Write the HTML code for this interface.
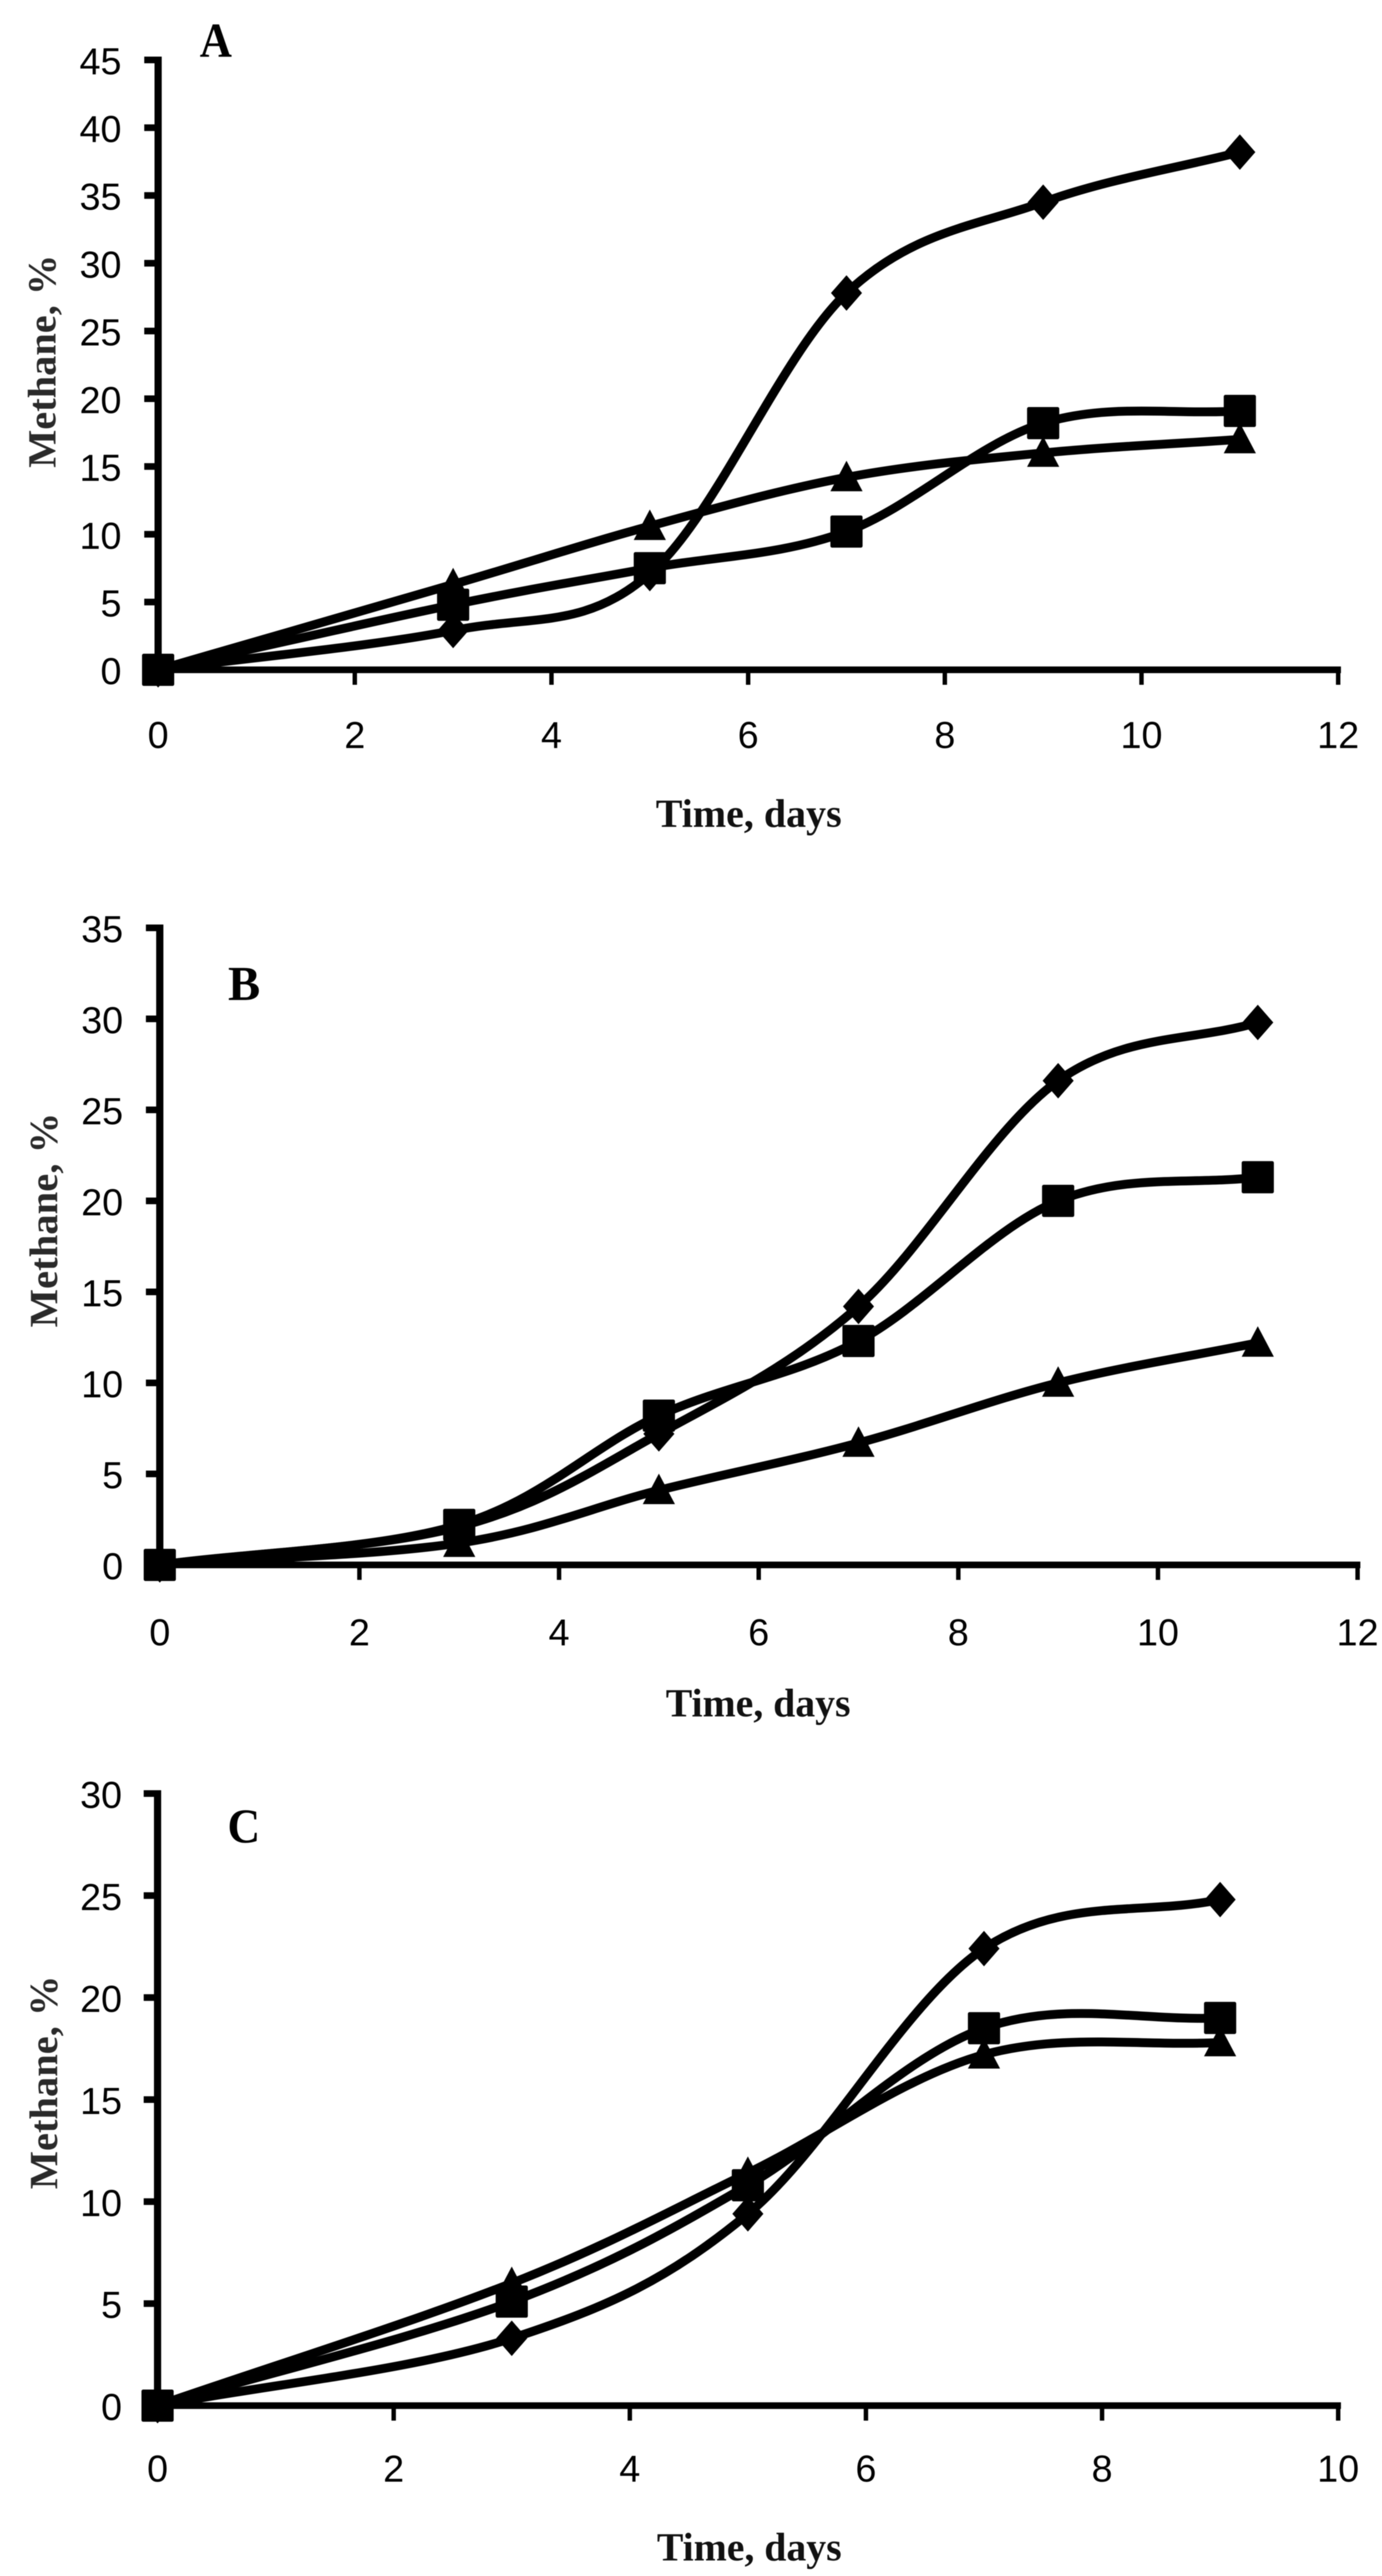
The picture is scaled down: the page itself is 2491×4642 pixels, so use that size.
<!DOCTYPE html>
<html lang="en">
<head>
<meta charset="utf-8">
<title>Methane content over time, panels A, B and C</title>
<style>
  html, body { margin: 0; padding: 0; background: #fff; }
  #figure { display: block; width: 2491px; height: 4642px; background: #fff; filter: blur(0.8px); }
  .tick-label { font-family: "Liberation Sans", sans-serif; font-size: 68px; fill: #000; }
  .axis-title { font-family: "Liberation Serif", serif; font-weight: bold; font-size: 72px; fill: #111; }
  .y-title { fill: #2a2a2a; }
  .panel-letter { font-family: "Liberation Serif", serif; font-weight: bold; font-size: 88px; fill: #000; }
</style>
</head>
<body>
<svg id="figure" xmlns="http://www.w3.org/2000/svg" width="2491" height="4642" viewBox="0 0 2491 4642">
  <rect x="0" y="0" width="2491" height="4642" fill="#ffffff"/>

  <g id="panel-a">
    <text class="panel-letter" x="360" y="102" textLength="58" lengthAdjust="spacingAndGlyphs">A</text>
    <text class="axis-title y-title" transform="translate(100 843) rotate(-90)" textLength="384" lengthAdjust="spacingAndGlyphs">Methane, %</text>
    <text class="axis-title" x="1182" y="1490" textLength="335" lengthAdjust="spacingAndGlyphs">Time, days</text>
  </g>

  <g id="panel-b">
    <text class="panel-letter" x="411" y="1802" textLength="58" lengthAdjust="spacingAndGlyphs">B</text>
    <text class="axis-title y-title" transform="translate(103 2392) rotate(-90)" textLength="387" lengthAdjust="spacingAndGlyphs">Methane, %</text>
    <text class="axis-title" x="1200" y="3093" textLength="333" lengthAdjust="spacingAndGlyphs">Time, days</text>
  </g>

  <g id="panel-c">
    <text class="panel-letter" x="410" y="3320" textLength="59" lengthAdjust="spacingAndGlyphs">C</text>
    <text class="axis-title y-title" transform="translate(103 3945) rotate(-90)" textLength="385" lengthAdjust="spacingAndGlyphs">Methane, %</text>
    <text class="axis-title" x="1184" y="4614" textLength="333" lengthAdjust="spacingAndGlyphs">Time, days</text>
  </g>
</svg>

<script>
// ---- Panel A data ----
var panelADays = [0, 3, 5, 7, 9, 11];
var panelADiamond = [0, 2.9, 7.1, 27.8, 34.5, 38.2];
var panelASquare = [0, 4.8, 7.5, 10.2, 18.2, 19.1];
var panelATriangle = [0, 6.3, 10.6, 14.2, 16.0, 17.0];
var panelAXTicks = [0, 2, 4, 6, 8, 10, 12];
var panelAYTicks = [0, 5, 10, 15, 20, 25, 30, 35, 40, 45];

// ---- Panel B data ----
var panelBDays = [0, 3, 5, 7, 9, 11];
var panelBDiamond = [0, 2.1, 7.2, 14.2, 26.6, 29.8];
var panelBSquare = [0, 2.2, 8.2, 12.3, 20.0, 21.3];
var panelBTriangle = [0, 1.2, 4.1, 6.7, 10.0, 12.2];
var panelBXTicks = [0, 2, 4, 6, 8, 10, 12];
var panelBYTicks = [0, 5, 10, 15, 20, 25, 30, 35];

// ---- Panel C data ----
var panelCDays = [0, 3, 5, 7, 9];
var panelCDiamond = [0, 3.3, 9.4, 22.4, 24.8];
var panelCSquare = [0, 5.1, 10.8, 18.5, 19.0];
var panelCTriangle = [0, 6.0, 11.4, 17.2, 17.8];
var panelCXTicks = [0, 2, 4, 6, 8, 10];
var panelCYTicks = [0, 5, 10, 15, 20, 25, 30];

var SVG_NS = 'http://www.w3.org/2000/svg';

// Spreadsheet-style smoothed line through pixel points.
function smoothPath(pts) {
  function dist(a, b) { return Math.hypot(a[0] - b[0], a[1] - b[1]); }
  var n = pts.length;
  var d = 'M' + pts[0][0].toFixed(1) + ' ' + pts[0][1].toFixed(1);
  for (var i = 0; i < n - 1; i++) {
    var p0 = pts[i === 0 ? 0 : i - 1];
    var p1 = pts[i];
    var p2 = pts[i + 1];
    var p3 = pts[i + 2 >= n ? n - 1 : i + 2];
    var d12 = dist(p1, p2);
    var d02 = dist(p0, p2);
    var d13 = dist(p1, p3);
    var f1, f2;
    var c1Big = d02 / 6 >= d12 / 2;
    var c2Big = d13 / 6 >= d12 / 2;
    if (!c1Big && !c2Big) {
      f1 = i === 0 ? 1 / 3 : 1 / 6;
      f2 = i === n - 2 ? 1 / 3 : 1 / 6;
    } else if (c1Big && c2Big) {
      f1 = d12 / 2 / d02;
      f2 = d12 / 2 / d13;
    } else if (c1Big) {
      f1 = d12 / 2 / d02;
      f2 = d12 / 2 / d13 * (d02 / d13);
    } else {
      f1 = d12 / 2 / d02 * (d13 / d02);
      f2 = d12 / 2 / d13;
    }
    var c1x = p1[0] + (p2[0] - p0[0]) * f1;
    var c1y = p1[1] + (p2[1] - p0[1]) * f1;
    var c2x = p2[0] + (p1[0] - p3[0]) * f2;
    var c2y = p2[1] + (p1[1] - p3[1]) * f2;
    d += 'C' + c1x.toFixed(1) + ' ' + c1y.toFixed(1) + ' ' + c2x.toFixed(1) + ' ' + c2y.toFixed(1) + ' ' + p2[0].toFixed(1) + ' ' + p2[1].toFixed(1);
  }
  return d;
}

function drawMarker(group, kind, cx, cy) {
  var el;
  if (kind === 'square') {
    el = document.createElementNS(SVG_NS, 'rect');
    el.setAttribute('x', cx - 29);
    el.setAttribute('y', cy - 29);
    el.setAttribute('width', 58);
    el.setAttribute('height', 58);
    el.setAttribute('rx', 3);
  } else if (kind === 'diamond') {
    el = document.createElementNS(SVG_NS, 'polygon');
    el.setAttribute('points', cx + ',' + (cy - 32) + ' ' + (cx + 28) + ',' + cy + ' ' + cx + ',' + (cy + 32) + ' ' + (cx - 28) + ',' + cy);
  } else {
    el = document.createElementNS(SVG_NS, 'polygon');
    el.setAttribute('points', cx + ',' + (cy - 30) + ' ' + (cx + 29) + ',' + (cy + 25) + ' ' + (cx - 29) + ',' + (cy + 25));
  }
  el.setAttribute('fill', '#000');
  
  
  group.appendChild(el);
}

function drawPanel(cfg) {
  var root = document.getElementById(cfg.id);
  var xMax = cfg.xTicks[cfg.xTicks.length - 1];
  var yMax = cfg.yTicks[cfg.yTicks.length - 1];
  function xScale(v) { return cfg.x0 + (cfg.x1 - cfg.x0) * v / xMax; }
  function yScale(v) { return cfg.y0 + (cfg.y1 - cfg.y0) * v / yMax; }

  var axes = document.createElementNS(SVG_NS, 'g');
  
  
  root.appendChild(axes);

  var yAxis = document.createElementNS(SVG_NS, 'line');
  yAxis.setAttribute('x1', cfg.x0);
  yAxis.setAttribute('x2', cfg.x0);
  yAxis.setAttribute('y1', cfg.y1 - 6);
  yAxis.setAttribute('y2', cfg.y0 + 6);
  yAxis.setAttribute('stroke', '#000');
  yAxis.setAttribute('stroke-width', 13);
  
  
  axes.appendChild(yAxis);

  var xAxis = document.createElementNS(SVG_NS, 'line');
  xAxis.setAttribute('x1', cfg.x0 - 6);
  xAxis.setAttribute('x2', cfg.x1 + 5);
  xAxis.setAttribute('y1', cfg.y0);
  xAxis.setAttribute('y2', cfg.y0);
  xAxis.setAttribute('stroke', '#000');
  xAxis.setAttribute('stroke-width', 12);
  
  
  axes.appendChild(xAxis);

  cfg.yTicks.forEach(function (v) {
    var y = yScale(v);
    var tick = document.createElementNS(SVG_NS, 'line');
    tick.setAttribute('x1', cfg.x0 - 25);
    tick.setAttribute('x2', cfg.x0);
    tick.setAttribute('y1', y);
    tick.setAttribute('y2', y);
    tick.setAttribute('stroke', '#000');
    tick.setAttribute('stroke-width', 12);
    
    
    axes.appendChild(tick);

    var label = document.createElementNS(SVG_NS, 'text');
    label.setAttribute('class', 'tick-label');
    label.setAttribute('x', cfg.yLabelRight);
    label.setAttribute('y', y + 26);
    label.setAttribute('text-anchor', 'end');
    
    
    label.textContent = String(v);
    axes.appendChild(label);
  });

  cfg.xTicks.forEach(function (v) {
    var x = xScale(v);
    var tick = document.createElementNS(SVG_NS, 'line');
    tick.setAttribute('x1', x);
    tick.setAttribute('x2', x);
    tick.setAttribute('y1', cfg.y0);
    tick.setAttribute('y2', cfg.y0 + 27);
    tick.setAttribute('stroke', '#000');
    tick.setAttribute('stroke-width', 8);
    
    
    axes.appendChild(tick);

    var label = document.createElementNS(SVG_NS, 'text');
    label.setAttribute('class', 'tick-label');
    label.setAttribute('x', x);
    label.setAttribute('y', cfg.y0 + cfg.xLabelDrop);
    label.setAttribute('text-anchor', 'middle');
    
    
    label.textContent = String(v);
    axes.appendChild(label);
  });

  cfg.series.forEach(function (s) {
    var group = document.createElementNS(SVG_NS, 'g');
    
    
    root.appendChild(group);

    var pts = s.values.map(function (v, i) { return [xScale(cfg.days[i]), yScale(v)]; });

    var line = document.createElementNS(SVG_NS, 'path');
    line.setAttribute('d', smoothPath(pts));
    line.setAttribute('fill', 'none');
    line.setAttribute('stroke', '#000');
    line.setAttribute('stroke-width', 16);
    line.setAttribute('stroke-linejoin', 'round');
    
    
    group.appendChild(line);

    pts.forEach(function (p) { drawMarker(group, s.kind, p[0], p[1]); });
  });
}

drawPanel({
  id: 'panel-a', x0: 285, x1: 2412, y0: 1207, y1: 108, yLabelRight: 219, xLabelDrop: 141,
  days: panelADays, xTicks: panelAXTicks, yTicks: panelAYTicks,
  series: [
    { kind: 'diamond', values: panelADiamond },
    { kind: 'triangle', values: panelATriangle },
    { kind: 'square', values: panelASquare }
  ]
});
drawPanel({
  id: 'panel-b', x0: 288, x1: 2447, y0: 2820, y1: 1672, yLabelRight: 222, xLabelDrop: 145,
  days: panelBDays, xTicks: panelBXTicks, yTicks: panelBYTicks,
  series: [
    { kind: 'diamond', values: panelBDiamond },
    { kind: 'triangle', values: panelBTriangle },
    { kind: 'square', values: panelBSquare }
  ]
});
drawPanel({
  id: 'panel-c', x0: 284, x1: 2412, y0: 4335, y1: 3232, yLabelRight: 220, xLabelDrop: 137,
  days: panelCDays, xTicks: panelCXTicks, yTicks: panelCYTicks,
  series: [
    { kind: 'diamond', values: panelCDiamond },
    { kind: 'triangle', values: panelCTriangle },
    { kind: 'square', values: panelCSquare }
  ]
});
</script>
</body>
</html>
